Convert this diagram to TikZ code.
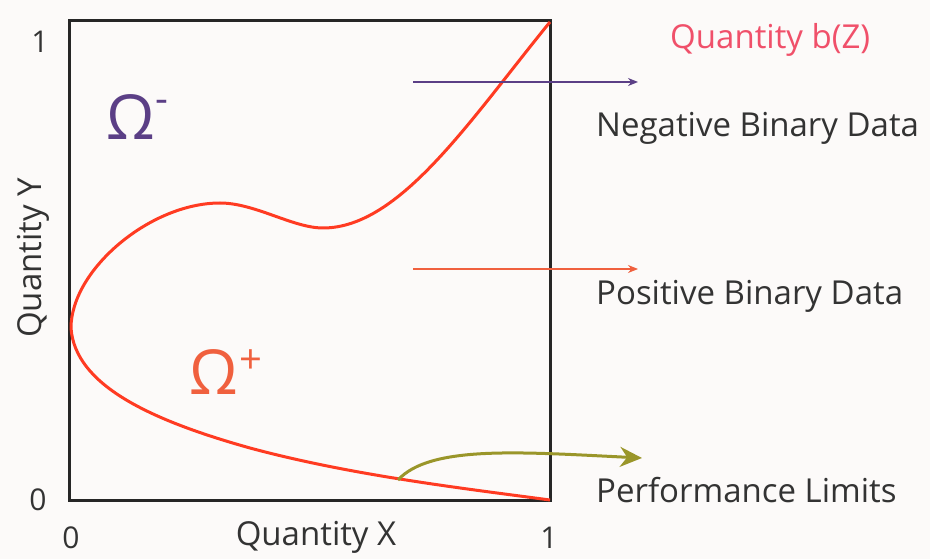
\documentclass[tikz,border=0pt]{standalone}
\usepackage{fontspec}
\setmainfont{Open Sans}
\usetikzlibrary{arrows.meta}
\definecolor{bg}{HTML}{FCFAF9}
\definecolor{curvered}{HTML}{FF3B22}
\definecolor{negpurple}{HTML}{5B3F86}
\definecolor{posorange}{HTML}{F0603E}
\definecolor{olivec}{HTML}{9A962A}
\definecolor{titlered}{HTML}{F0506A}
\definecolor{txt}{HTML}{333333}
\tikzset{
  lbl/.style={font=\fontsize{33}{36}\selectfont, text=txt, inner sep=0pt},
  tick/.style={font=\fontsize{30}{34}\selectfont, text=txt, inner sep=0pt},
  omg/.style={font=\fontsize{62}{66}\selectfont, inner sep=0pt},
  supr/.style={font=\fontsize{40}{44}\selectfont, inner sep=0pt},
}
\begin{document}
\begin{tikzpicture}[x=1pt,y=-1pt]
\useasboundingbox (0,0) rectangle (930,559);
\fill[bg] (0,0) rectangle (930,559);
% box
\draw[line width=3pt, black!85] (69,21) rectangle (550,500);
% curve
\draw[curvered, line width=3pt, line join=round]
 (550,22) .. controls (470,120) and (400,228) .. (323,228)
 .. controls (293,228) and (255,203) .. (220,203)
 .. controls (150,203) and (71,270) .. (71,328)
 .. controls (75,385) and (150,420) .. (250,448)
 .. controls (350,475) and (460,488) .. (550,500);
% arrows
\coordinate (na) at (413,82);
\coordinate (nb) at (638,82);
\draw[negpurple, line width=1.4pt, -{Stealth[length=10pt,width=8pt]}] (na) -- (nb);
\coordinate (pa) at (413,269);
\coordinate (pb) at (638,269);
\draw[posorange, line width=1.4pt, -{Stealth[length=10pt,width=8pt]}] (pa) -- (pb);
\coordinate (ga) at (398,480);
\coordinate (gb) at (642,458);
\draw[olivec, line width=3pt, -{Stealth[length=22pt,width=20pt]}] (ga) .. controls (430,445) and (520,452) .. (gb);
% ticks
\node[tick] (y1) at (40,42) {1};
\node[tick] (y0) at (38,500) {0};
\node[tick] (x0) at (71,538) {0};
\node[tick] (x1) at (549,538) {1};
\node[lbl] (xl) at (316,537) {Quantity X};
\node[lbl, rotate=90] (yl) at (33,258) {Quantity Y};
% omegas
\node[omg, text=negpurple] (om) at (131,117) {Ω};
\node[supr, text=negpurple] (oms) at (162,106) {-};
\node[omg, text=posorange] (op) at (214,372) {Ω};
\node[supr, text=posorange] (ops) at (251,362) {+};
% right labels
\node[lbl, text=titlered, anchor=west] (qb) at (670,40) {Quantity b(Z)};
\node[lbl, anchor=west] (neg) at (596,128) {Negative Binary Data};
\node[lbl, anchor=west] (pos) at (596,296) {Positive Binary Data};
\node[lbl, anchor=west] (perf) at (596,490) {Performance Limits};
\end{tikzpicture}
\end{document}
